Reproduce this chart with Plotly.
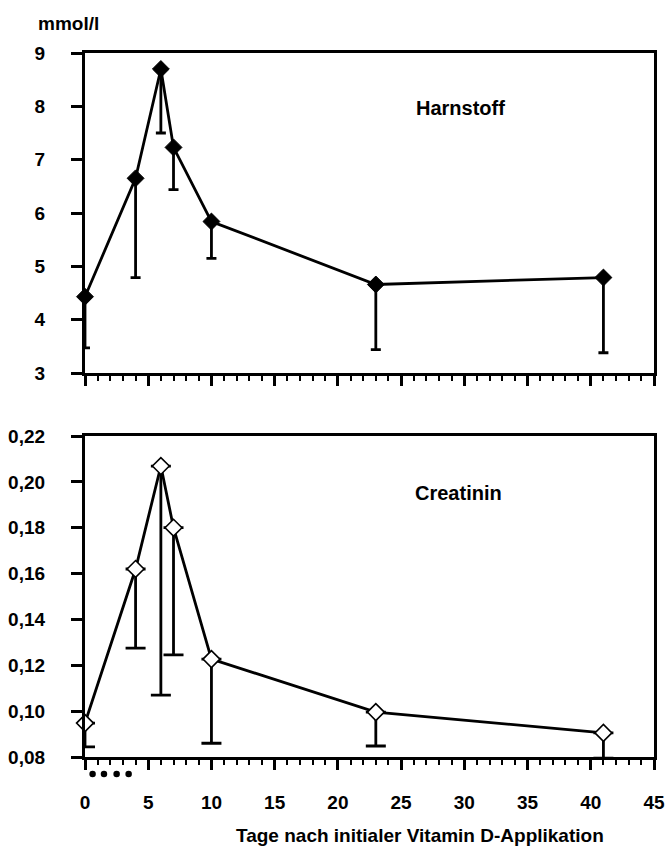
import plotly.graph_objects as go

# Data
days = [0, 4, 6, 7, 10, 23, 41]
harnstoff = [4.43, 6.65, 8.70, 7.23, 5.84, 4.66, 4.79]
harnstoff_lower = [3.47, 4.79, 7.50, 6.44, 5.15, 3.44, 3.38]
creatinin = [0.0948, 0.162, 0.2069, 0.180, 0.1227, 0.0996, 0.0905]
creatinin_lower = [0.0844, 0.1275, 0.107, 0.1245, 0.086, 0.0848, 0.0795]
application_days = [0.6, 1.5, 2.5, 3.45]
application_marker_y = [0.5] * 4

h_minus = [m - l for m, l in zip(harnstoff, harnstoff_lower)]
c_minus = [m - l for m, l in zip(creatinin, creatinin_lower)]

FONT = "Liberation Sans, Arial, sans-serif"
fs = 19
W, H = 668, 850
L, R = 85, 14

fig = go.Figure()

fig.add_trace(go.Scatter(
    x=days, y=harnstoff, mode="lines+markers",
    line=dict(color="black", width=2.8),
    marker=dict(symbol="diamond", size=13, color="black",
                line=dict(color="black", width=1)),
    error_y=dict(type="data", symmetric=False, array=[0] * len(days),
                 arrayminus=h_minus, color="black", thickness=2.8, width=5),
    xaxis="x", yaxis="y", cliponaxis=False, showlegend=False,
))

fig.add_trace(go.Scatter(
    x=days, y=creatinin, mode="lines+markers",
    line=dict(color="black", width=2.8),
    marker=dict(symbol="diamond", size=13, color="white",
                line=dict(color="black", width=1.6)),
    error_y=dict(type="data", symmetric=False, array=[0] * len(days),
                 arrayminus=c_minus, color="black", thickness=2.8, width=10),
    xaxis="x2", yaxis="y2", cliponaxis=False, showlegend=False,
))

fig.add_trace(go.Scatter(
    x=application_days, y=application_marker_y, mode="markers",
    marker=dict(symbol="circle", size=6.5, color="black"),
    xaxis="x3", yaxis="y3", cliponaxis=False, showlegend=False,
    hoverinfo="skip",
))

def ydom(top_px, bot_px):
    return [(H - bot_px) / H, (H - top_px) / H]

xcommon = dict(
    range=[0, 45], dtick=5, tick0=0, ticks="outside", ticklen=10, tickwidth=2.5,
    showline=True, linewidth=3.2, linecolor="black", mirror=True,
    showgrid=False, zeroline=False, tickcolor="black",
    minor=dict(dtick=1, ticks="outside", ticklen=5, tickwidth=2, tickcolor="black",
               showgrid=False),
    tickfont=dict(family=FONT, size=fs, color="black", weight="bold"),
)
ycommon = dict(
    ticks="outside", ticklen=11, tickwidth=2.5, tickcolor="black",
    showline=True, linewidth=3.2, linecolor="black", mirror=True,
    showgrid=False, zeroline=False,
    tickfont=dict(family=FONT, size=fs, color="black", weight="bold"),
    ticklabelstandoff=22,
)

fig.update_layout(
    width=W, height=H,
    margin=dict(l=L, r=R, t=0, b=0, autoexpand=False),
    paper_bgcolor="white", plot_bgcolor="white",
    separators=",.",
    xaxis=dict(**xcommon, showticklabels=False, anchor="y"),
    yaxis=dict(**ycommon, range=[3, 9], dtick=1, domain=ydom(53, 373), anchor="x"),
    xaxis2=dict(**xcommon, showticklabels=True, anchor="y2", ticklabelstandoff=16),
    yaxis2=dict(**ycommon, range=[0.08, 0.22], dtick=0.02, tick0=0.08,
                tickformat=".2f", domain=ydom(436, 757), anchor="x2"),
    xaxis3=dict(range=[0, 45], visible=False, anchor="y3", matches=None),
    yaxis3=dict(range=[0, 1], visible=False, domain=ydom(764, 784), anchor="x3"),
    annotations=[
        dict(text="Harnstoff", x=29.7, y=7.97, xref="x", yref="y",
             showarrow=False, font=dict(family=FONT, size=20, color="black", weight="bold")),
        dict(text="Creatinin", x=29.5, y=0.1951, xref="x2", yref="y2",
             showarrow=False, font=dict(family=FONT, size=20, color="black", weight="bold")),
        dict(text="mmol/l", x=(36 - L) / (W - L - R), y=(H - 23) / H, xref="paper", yref="paper",
             xanchor="left", yanchor="middle", showarrow=False,
             font=dict(family=FONT, size=fs, color="black", weight="bold")),
        dict(text="Tage nach initialer Vitamin D-Applikation",
             x=(420 - L) / (W - L - R), y=(H - 835) / H, xref="paper", yref="paper",
             xanchor="center", yanchor="middle", showarrow=False,
             font=dict(family=FONT, size=fs, color="black", weight="bold")),
    ],
)

fig.write_html("out.html")
